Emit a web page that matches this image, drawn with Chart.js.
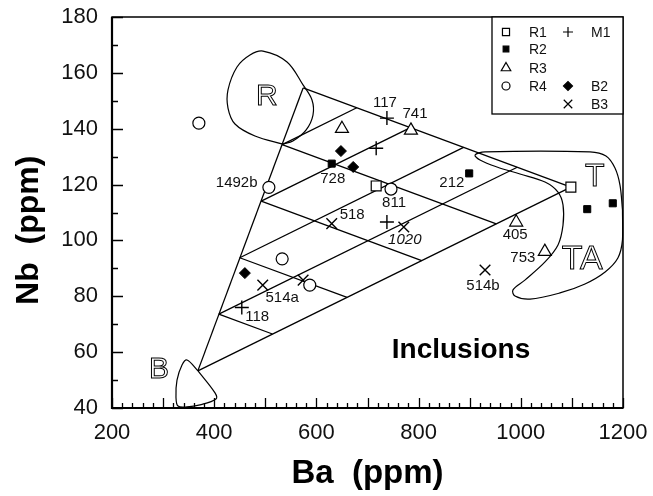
<!DOCTYPE html>
<html>
<head>
<meta charset="utf-8">
<script src="https://cdn.jsdelivr.net/npm/chart.js@4/dist/chart.umd.min.js"></script>
<style>
html,body{margin:0;padding:0;background:#fff;}
#wrap{width:653px;height:496px;position:relative;}
</style>
</head>
<body>
<div id="wrap"><canvas id="c" width="653" height="496"></canvas></div>
<script>
// ---- Axis ticks ----
const xTickValues = [200, 400, 600, 800, 1000, 1200];
const yTickValues = [40, 60, 80, 100, 120, 140, 160, 180];

// ---- Sample series (Ba, Nb) ----
const R1 = [[717, 119.5], [1098, 119.1]];
const R2 = [[630, 127.5], [899, 124.0], [1130, 111.2], [1180, 113.3]];
const R3 = [[650, 140.0], [785, 139.4], [991, 106.5], [1047, 96.0]];
const R4 = [[370, 142.0], [507, 119.0], [746, 118.4], [533, 93.4], [587, 84.0]];
const M1 = [[738, 143.8], [717, 133.0], [738, 106.6], [454, 76.0]];
const B2 = [[648, 132.0], [672, 126.3], [460, 88.3]];
const B3 = [[630, 106.0], [771, 104.8], [930, 89.4], [495, 84.0], [574, 85.8]];

// ---- Mixing grid segments [Ba1, Nb1, Ba2, Nb2] ----
const mixingLines = [
  [368, 53.3, 574, 154.6],
  [368, 53.3, 1098, 119.1],
  [574, 154.6, 1098, 119.1],
  [409, 73.6, 993, 126.2],
  [450, 93.8, 888, 133.3],
  [492, 114.1, 784, 140.4],
  [533, 134.3, 679, 147.5],
  [409, 73.6, 514, 66.5],
  [450, 93.8, 660, 79.6],
  [492, 114.1, 806, 92.8],
  [533, 134.3, 952, 105.9]
];

// ---- Field outlines (Ba, Nb) ----
const fieldR = [[534.6,134.5],[554,135.6],[579.6,139.5],[593.3,144.9],[591.4,150.3],[573.8,155.7],[542.5,163.9],[495.5,167.8],[470,166.4],[444.6,162.1],[427,153.9],[427,147.4],[440.7,141.7],[479.8,137.4],[534.6,134.5]];
const fieldT = [[1199,110.9],[1199,100.2],[1190,93.7],[1165,88.7],[1125.6,84.4],[1076.7,81.2],[1018,79.0],[988.6,80.1],[984.7,82.3],[1008,85.8],[1047.4,92.3],[1072.8,98.4],[1082.6,105.5],[1082.6,112.7],[1072.8,117.3],[1047.4,120.9],[998.4,123.8],[953.4,126.3],[920.2,128.8],[910.4,130.6],[930,131.7],[1135.4,131.7],[1166.7,130.2],[1184.3,125.9],[1194.1,119.8],[1199,110.9]];
const fieldB = [[368.3,53.3],[401.6,45.4],[403.5,43.2],[372.2,41.1],[346.8,40.4],[329.2,40.7],[325.2,43.9],[327.2,50.0],[337.0,55.4],[346.8,57.2],[368.3,53.3]];

// ---- Sample number labels ----
const sampleLabels = ['117','741','728','1492b','811','518','1020','212','405','753','514b','514a','118'];
const sampleLabelBa = [734, 793, 632, 444, 752, 670, 773, 865, 989, 1004, 926, 533, 484];
const sampleLabelNb = [149.2, 145.3, 122.0, 120.6, 113.4, 109.1, 100.2, 120.6, 102.0, 93.7, 83.7, 79.4, 72.6];

// ---- Field names ----
const fieldNames = ['R', 'T', 'TA', 'B'];
const fieldNameBa = [503, 1145, 1120, 292];
const fieldNameNb = [151.4, 122.7, 93.0, 53.6];
const panelTitle = 'Inclusions';
const panelTitleBa = 883, panelTitleNb = 60.8;

const toXY = arr => arr.map(p => ({x: p[0], y: p[1]}));
const FONT = "'Liberation Sans', Arial, Helvetica, sans-serif";
Chart.defaults.font.family = FONT;
Chart.defaults.color = '#111';

const datasets = [];
function pts(label, data, style, radius, fill, bw) {
  datasets.push({label, data: toXY(data), showLine: false, pointStyle: style, pointRadius: radius,
    pointBackgroundColor: fill, pointBorderColor: '#000', pointBorderWidth: bw, order: 0});
}
pts('R1', R1, 'rect', 7, '#fff', 1.2);
pts('R2', R2, 'rect', 5, '#000', 1);
pts('R3', R3, 'triangle', 7.5, '#fff', 1.2);
pts('R4', R4, 'circle', 6, '#fff', 1.2);
pts('M1', M1, 'cross', 7, '#000', 1.4);
pts('B2', B2, 'rectRot', 5.5, '#000', 1);
pts('B3', B3, 'crossRot', 7.5, '#000', 1.4);

mixingLines.forEach((s, i) => {
  datasets.push({label: 'grid' + i, data: [{x: s[0], y: s[1]}, {x: s[2], y: s[3]}], showLine: true,
    pointRadius: 0, borderColor: '#000', borderWidth: 1.3, order: 5});
});
[fieldR, fieldT, fieldB].forEach((f, i) => {
  datasets.push({label: 'field' + i, data: toXY(f), showLine: true, pointRadius: 0, tension: 0.35,
    borderColor: '#000', borderWidth: 1.2, order: 6, clip: false});
});

const legendItems = [
  {t: 'R1', col: 0, row: 0, style: 'rect', r: 5, fill: '#fff'},
  {t: 'R2', col: 0, row: 1, style: 'rect', r: 4, fill: '#000'},
  {t: 'R3', col: 0, row: 2, style: 'triangle', r: 5.5, fill: '#fff'},
  {t: 'R4', col: 0, row: 3, style: 'circle', r: 4, fill: '#fff'},
  {t: 'M1', col: 1, row: 0, style: 'cross', r: 5, fill: '#000'},
  {t: 'B2', col: 1, row: 3, style: 'rectRot', r: 4.5, fill: '#000'},
  {t: 'B3', col: 1, row: 4, style: 'crossRot', r: 6, fill: '#000'}
];

const decor = {
  id: 'decor',
  beforeDatasetsDraw(chart) {
    const {ctx, chartArea: a, scales: {x, y}} = chart;
    ctx.save();
    ctx.strokeStyle = '#000';
    ctx.lineWidth = 1.3;
    ctx.beginPath();
    for (let v = 200; v <= 1200; v += 20) {
      const px = Math.round(x.getPixelForValue(v)) + 0.5;
      const len = v % 100 === 0 ? 10 : 5;
      ctx.moveTo(px, a.bottom); ctx.lineTo(px, a.bottom - len);
    }
    for (let v = 40; v <= 180; v += 10) {
      const py = Math.round(y.getPixelForValue(v)) + 0.5;
      const len = v % 20 === 0 ? 11 : 6;
      ctx.moveTo(a.left, py); ctx.lineTo(a.left + len, py);
    }
    ctx.stroke();
    ctx.lineWidth = 1.5;
    ctx.strokeRect(a.left, a.top, a.right - a.left, a.bottom - a.top);
    ctx.lineWidth = 2.2;
    ctx.beginPath();
    ctx.moveTo(a.left, a.top); ctx.lineTo(a.left, a.bottom); ctx.lineTo(a.right, a.bottom);
    ctx.stroke();
    ctx.restore();
  },
  afterDatasetsDraw(chart) {
    const {ctx, chartArea: a, scales: {x, y}} = chart;
    ctx.save();
    ctx.fillStyle = '#111';
    ctx.textAlign = 'center';
    ctx.textBaseline = 'middle';
    sampleLabels.forEach((t, i) => {
      ctx.font = (t === '1020' ? 'italic ' : '') + '15px ' + FONT;
      ctx.fillText(t, x.getPixelForValue(sampleLabelBa[i]), y.getPixelForValue(sampleLabelNb[i]));
    });
    // outlined field names
    ctx.strokeStyle = '#000';
    ctx.lineWidth = 1;
    const sizes = [30, 32, 34, 30];
    fieldNames.forEach((t, i) => {
      ctx.font = sizes[i] + 'px ' + FONT;
      const px = x.getPixelForValue(fieldNameBa[i]), py = y.getPixelForValue(fieldNameNb[i]);
      ctx.fillStyle = '#fff';
      ctx.fillText(t, px, py);
      ctx.strokeText(t, px, py);
    });
    ctx.fillStyle = '#000';
    ctx.font = 'bold 28px ' + FONT;
    ctx.fillText(panelTitle, x.getPixelForValue(panelTitleBa), y.getPixelForValue(panelTitleNb));

    // legend box
    const bw = 131, bh = 97;
    const bx = a.right - bw, by = a.top;
    ctx.fillStyle = '#fff';
    ctx.fillRect(bx, by, bw, bh);
    ctx.lineWidth = 1.3;
    ctx.strokeRect(bx, by, bw, bh);
    const rowY = [15, 32, 51, 69, 87];
    ctx.font = '14px ' + FONT;
    ctx.textAlign = 'left';
    legendItems.forEach(it => {
      const sx = bx + (it.col === 0 ? 14 : 76);
      const lx = bx + (it.col === 0 ? 37 : 99);
      const yy = by + rowY[it.row];
      ctx.fillStyle = it.fill;
      ctx.strokeStyle = '#000';
      ctx.lineWidth = 1.2;
      Chart.helpers.drawPoint(ctx, {pointStyle: it.style, radius: it.r, rotation: 0, borderWidth: 1.2}, sx, yy);
      ctx.fillStyle = '#111';
      ctx.fillText(it.t, lx, yy + 1);
    });
    ctx.restore();
  }
};

new Chart(document.getElementById('c'), {
  type: 'scatter',
  data: {datasets},
  options: {
    responsive: false,
    devicePixelRatio: 1,
    animation: false,
    events: [],
    layout: {autoPadding: false, padding: {top: 17, right: 30, left: 0, bottom: 0}},
    plugins: {legend: {display: false}, tooltip: {enabled: false}},
    scales: {
      x: {
        type: 'linear', min: 200, max: 1200,
        afterBuildTicks: s => { s.ticks = xTickValues.map(v => ({value: v})); },
        afterFit: s => { s.height = 88; s.paddingLeft = 0; s.paddingRight = 0; },
        grid: {display: false, drawTicks: false},
        border: {display: false},
        ticks: {padding: 12, font: {size: 22}, color: '#111', maxRotation: 0, callback: v => String(v)},
        title: {display: true, text: 'Ba  (ppm)', font: {size: 33, weight: 'bold'}, color: '#000', padding: {top: 0, bottom: 2}}
      },
      y: {
        type: 'linear', min: 40, max: 180,
        afterBuildTicks: s => { s.ticks = yTickValues.map(v => ({value: v})); },
        afterFit: s => { s.width = 112; s.paddingTop = 0; s.paddingBottom = 0; },
        grid: {display: false, drawTicks: false},
        border: {display: false},
        ticks: {padding: 14, font: {size: 22}, color: '#111', callback: v => String(v)},
        title: {display: true, text: 'Nb  (ppm)    ', font: {size: 32, weight: 'bold'}, color: '#000', padding: {top: 10, bottom: 0}}
      }
    }
  },
  plugins: [decor]
});
</script>
</body>
</html>
